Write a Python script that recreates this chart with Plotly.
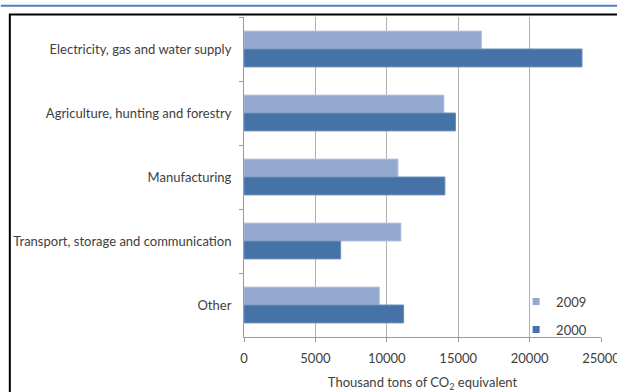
import plotly.graph_objects as go

categories = ["Electricity, gas and water supply", "Agriculture, hunting and forestry",
              "Manufacturing", "Transport, storage and communication", "Other"]
values_2009 = [16630, 14000, 10780, 10990, 9480]
values_2000 = [23670, 14810, 14070, 6770, 11180]
x_ticks = [0, 5000, 10000, 15000, 20000, 25000]
series_names = ["2009", "2000"]
colors = ["#93a9cf", "#4573a7"]
edge_colors = ["#b3c3e0", "#6c8fbd"]

W, H = 617, 392
L, R, T, B = 243.5, 16, 17, 54.5
pw, ph = W - L - R, H - T - B

def px(x):
    return (x - L) / pw

def py(y):
    return (H - B - y) / ph

FONT = "Lato"
FS = 13
fig = go.Figure()
for name, vals, c, ec in zip(series_names, [values_2009, values_2000], colors, edge_colors):
    fig.add_trace(go.Bar(y=categories, x=vals, orientation="h", name=name, showlegend=False,
                         marker=dict(color=c, line=dict(color=ec, width=1))))
for i, (name, c) in enumerate(zip(series_names, colors)):
    fig.add_trace(go.Scatter(x=[None], y=[None], mode="markers", name=name, legendgroup=str(i),
                             marker=dict(symbol="square", size=7, color=c)))

fig.update_layout(
    width=W, height=H,
    margin=dict(l=L, r=R, t=T, b=B, pad=0, autoexpand=False),
    paper_bgcolor="white", plot_bgcolor="white",
    barmode="group", bargap=0.44, bargroupgap=0,
    font=dict(family=FONT, size=FS, color="#404040"),
    legend=dict(x=px(516), y=py(287), xanchor="left", yanchor="top",
                bgcolor="rgba(0,0,0,0)", tracegroupgap=8,
                font=dict(family=FONT, size=FS, color="#404040")),
    shapes=[
        dict(type="line", xref="paper", yref="paper", x0=px(0), x1=px(617), y0=py(5.7), y1=py(5.7),
             line=dict(color="#4f81bd", width=2)),
        dict(type="rect", xref="paper", yref="paper", x0=px(9), x1=px(640), y0=py(14.5), y1=py(420),
             line=dict(color="black", width=2)),
    ],
)
fig.update_xaxes(range=[0, 25000], tickvals=x_ticks, ticktext=[str(v) for v in x_ticks],
                 showgrid=True, gridcolor="#b0b0b0", gridwidth=1, automargin=False,
                 showline=True, linecolor="#9a9a9a", linewidth=1,
                 ticks="outside", ticklen=4, tickcolor="#9a9a9a",
                 zeroline=False, ticklabeloverflow="allow", ticklabelstandoff=5,
                 title=dict(text="Thousand tons of CO<sub>2</sub> equivalent", standoff=18,
                            font=dict(family=FONT, size=FS, color="#404040")))
fig.update_yaxes(autorange="reversed", showgrid=False, showline=True, linecolor="#9a9a9a",
                 linewidth=1, ticks="outside", ticklen=4, tickcolor="#9a9a9a", automargin=False,
                 tickson="boundaries", ticklabelstandoff=9)

fig.write_html("out.html")
